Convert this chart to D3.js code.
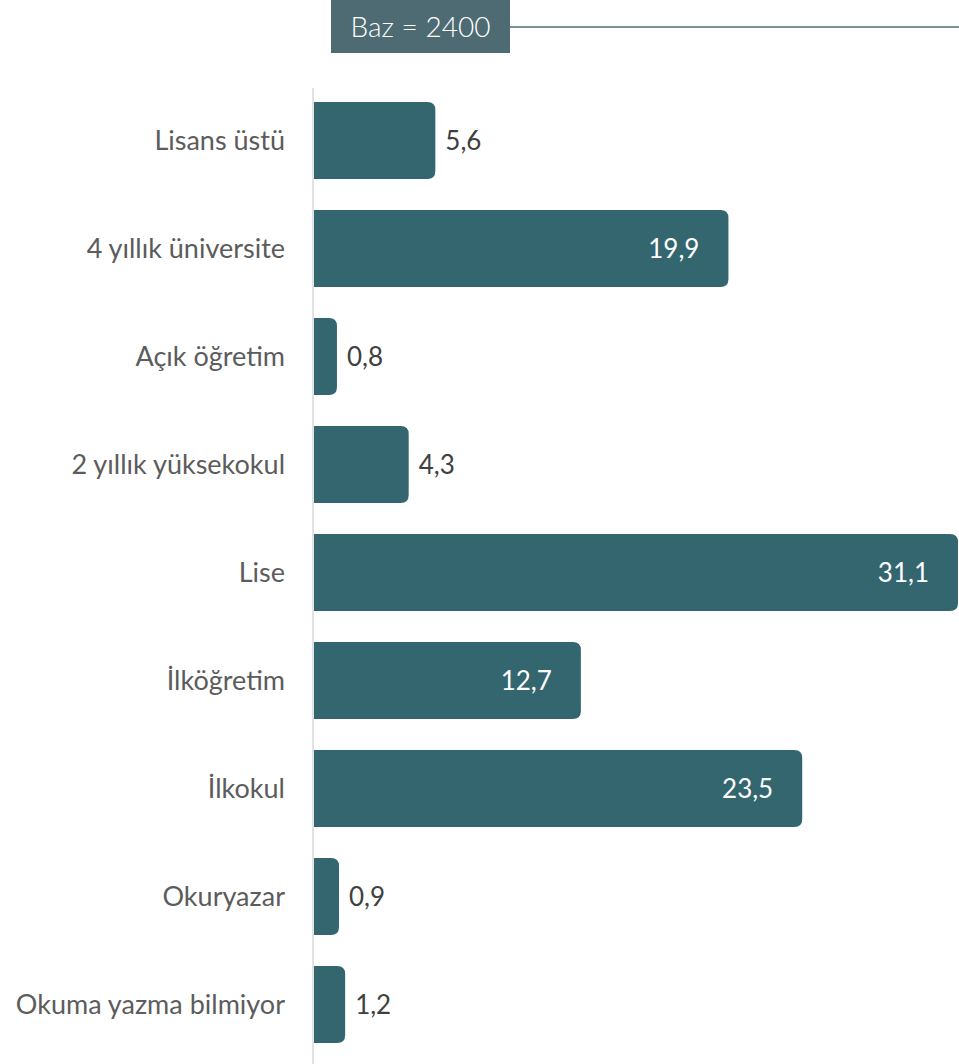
<!DOCTYPE html>
<html>
<head>
<meta charset="utf-8">
<script src="https://cdn.jsdelivr.net/npm/d3@7"></script>
<style>
  html, body { margin: 0; padding: 0; background: #ffffff; }
  svg { display: block; }
</style>
</head>
<body>
<div id="chart"></div>
<script>
const categories = ["Lisans üstü", "4 yıllık üniversite", "Açık öğretim", "2 yıllık yüksekokul", "Lise", "İlköğretim", "İlkokul", "Okuryazar", "Okuma yazma bilmiyor"];
const values = [5.6, 19.9, 0.8, 4.3, 31.1, 12.7, 23.5, 0.9, 1.2];
const valueLabels = ["5,6", "19,9", "0,8", "4,3", "31,1", "12,7", "23,5", "0,9", "1,2"];
const baseLabel = "Baz = 2400";

const W = 959, H = 1064;
const barColor = "#33666f";
const headColor = "#4e6b73";
const font = "Lato, 'Open Sans', sans-serif";

const svg = d3.select("#chart").append("svg").attr("width", W).attr("height", H);

const y = d3.scaleBand().domain(categories).range([71, 1074]).padding(0.287);
const x = d3.scaleLinear().domain([-0.32, 31.1]).range([314, 958]);
const x0 = x.domain()[0];

// header box
const hb = { x: 331, y: 0, w: 179, h: 53 };
svg.append("line").attr("x1", hb.x + hb.w).attr("x2", W).attr("y1", 27).attr("y2", 27)
  .attr("stroke", headColor).attr("stroke-width", 1.3);
svg.append("rect").attr("x", hb.x).attr("y", hb.y).attr("width", hb.w).attr("height", hb.h).attr("fill", headColor);
svg.append("text").attr("x", hb.x + hb.w / 2).attr("y", hb.h / 2).attr("dy", "0.36em")
  .attr("text-anchor", "middle").attr("fill", "#ffffff").attr("font-family", font)
  .attr("font-weight", 300).attr("font-size", 28).text(baseLabel);

// axis line
svg.append("line").attr("x1", 313).attr("x2", 313).attr("y1", 88).attr("y2", H)
  .attr("stroke", "#d9d9d9").attr("stroke-width", 1.5);

const data = categories.map((c, i) => ({ c, v: values[i], lab: valueLabels[i] }));
const r = 8;
function barPath(d) {
  const x1 = x(x0), x2 = x(d.v), y1 = y(d.c), h = y.bandwidth();
  const rr = Math.min(r, (x2 - x1) / 2);
  return `M${x1},${y1}H${x2 - rr}Q${x2},${y1} ${x2},${y1 + rr}V${y1 + h - rr}Q${x2},${y1 + h} ${x2 - rr},${y1 + h}H${x1}Z`;
}

svg.append("g").selectAll("path").data(data).join("path")
  .attr("d", barPath).attr("fill", barColor);

// category labels
svg.append("g").selectAll("text").data(data).join("text")
  .attr("x", 285).attr("y", d => y(d.c) + y.bandwidth() / 2).attr("dy", "0.35em")
  .attr("text-anchor", "end").attr("fill", "#5c5c5c").attr("font-family", font)
  .attr("font-size", 27).text(d => d.c);

// value labels
svg.append("g").selectAll("text").data(data).join("text")
  .attr("x", d => d.v > 10 ? x(d.v) - 29 : x(d.v) + 10)
  .attr("y", d => y(d.c) + y.bandwidth() / 2).attr("dy", "0.35em")
  .attr("text-anchor", d => d.v > 10 ? "end" : "start")
  .attr("fill", d => d.v > 10 ? "#ffffff" : "#404040")
  .attr("font-family", font).attr("font-size", 26).text(d => d.lab);
</script>
</body>
</html>
